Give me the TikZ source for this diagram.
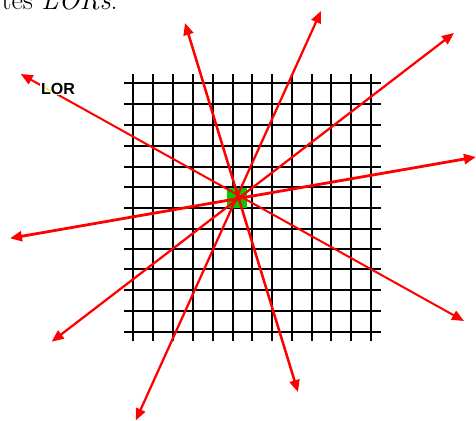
\documentclass[tikz,border=0pt]{standalone}
\usepackage{fontspec}
\newfontfamily\lorfont{Liberation Sans}
\usetikzlibrary{arrows.meta}
\definecolor{sqgreen}{RGB}{0,204,0}
\begin{document}
\begin{tikzpicture}[x=0.75pt,y=-0.75pt,
  gridline/.style={black,line width=1.2pt},
  lorline/.style={red,line width=#1,{Triangle[length=9pt,width=7.5pt]}-{Triangle[length=9pt,width=7.5pt]}},
  lorline/.default=1.7pt,
  lorlabel/.style={fill=white,inner sep=0.5pt,font=\lorfont\bfseries\fontsize{12}{12}\selectfont}]
\clip (0,0) rectangle (476,421);
\fill[white] (0,0) rectangle (476,421);
% partial caption text at the top
\node[anchor=base east,inner sep=0,font=\fontsize{21}{24}\selectfont] (cap) at (118,10) {tes \textit{LORs}.};
% grid
\foreach \gx in {133,153,173,193,213,233,252,272,292,312,331,351,371}
  \draw[gridline] (\gx,74) -- (\gx,341);
\foreach \gy in {83,104,125,146,167,187,208,229,249,269,290,311,332}
  \draw[gridline] (124,\gy) -- (381,\gy);
% green pixel
\node[fill=sqgreen,minimum width=15pt,minimum height=15pt,inner sep=0] (c) at (237,198) {};
% line endpoints
\coordinate (a1) at (185,23);
\coordinate (a2) at (298,392);
\coordinate (b1) at (321,11);
\coordinate (b2) at (135.7,420.5);
\coordinate (d1) at (454,33);
\coordinate (d2) at (51.7,341.7);
\coordinate (e1) at (476,157);
\coordinate (e2) at (10,238.3);
\coordinate (f1) at (464,321);
\coordinate (f2) at (20.7,74);
% LORs
\draw[lorline=1.9pt] (a1) -- (a2);
\draw[lorline] (b1) -- (b2);
\draw[lorline] (d1) -- (d2);
\draw[lorline=2.1pt] (e1) -- (e2);
\draw[lorline=1.5pt] (f1) -- (f2);
% label
\node[lorlabel] (lbl) at (58,88.5) {LOR};
\draw[yellow,line width=1pt] (45,87.5) -- (50.5,91);
\end{tikzpicture}
\end{document}
